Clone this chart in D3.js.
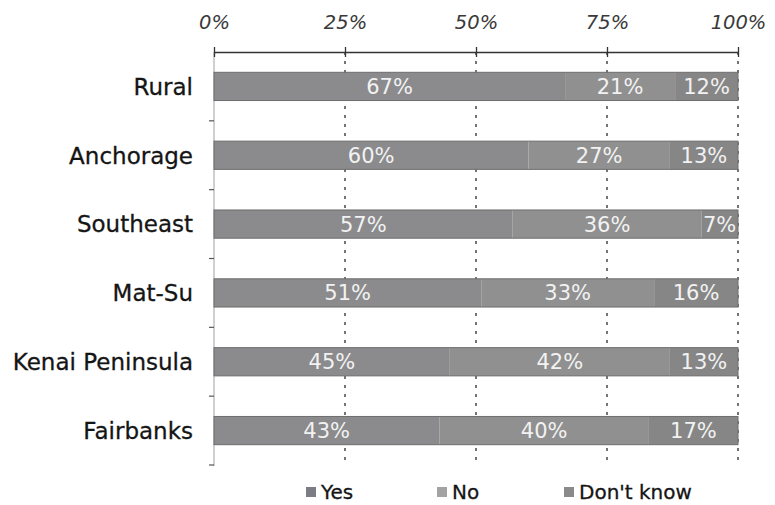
<!DOCTYPE html>
<html>
<head>
<meta charset="utf-8">
<script src="https://cdn.jsdelivr.net/npm/d3@7"></script>
<style>
  html, body { margin: 0; padding: 0; background: #ffffff; }
  svg { display: block; }
</style>
</head>
<body>
<svg id="chart" width="775" height="505"></svg>
<script>
// Survey responses by region (percent of respondents)
const categories = ["Rural", "Anchorage", "Southeast", "Mat-Su", "Kenai Peninsula", "Fairbanks"];
const seriesNames = ["Yes", "No", "Don't know"];
const yesValues = [67, 60, 57, 51, 45, 43];
const noValues = [21, 27, 36, 33, 42, 40];
const dontKnowValues = [12, 13, 7, 16, 13, 17];
const tickValues = [0, 25, 50, 75, 100];

const seriesColors = ["#8b8b8d", "#909090", "#868686"];
const legendSwatch = ["#7c7c84", "#a3a3a3", "#8a8a8a"];

const rows = categories.map((c, i) => ({
  category: c,
  "Yes": yesValues[i],
  "No": noValues[i],
  "Don't know": dontKnowValues[i]
}));

const svg = d3.select("#chart");
const fontFamily = "'DejaVu Sans', Verdana, sans-serif";

const x = d3.scaleLinear().domain([0, 100]).range([214, 738]);
const y = d3.scaleBand().domain(categories).range([52, 465])
  .paddingInner(0.59).paddingOuter(0.295);

const stacked = d3.stack().keys(seriesNames)(rows);

// dashed vertical gridlines
svg.append("g")
  .selectAll("line")
  .data(tickValues.filter(t => t > 0))
  .join("line")
  .attr("x1", d => x(d)).attr("x2", d => x(d))
  .attr("y1", 52).attr("y2", 466)
  .attr("stroke", "#3a3a3a")
  .attr("stroke-width", 1.4)
  .attr("stroke-dasharray", "3,6");

// category axis on the left
const step = y.step();
const boundaries = d3.range(1, categories.length + 1).map(k => 52 + k * step);
svg.append("line")
  .attr("x1", 214).attr("x2", 214)
  .attr("y1", 52).attr("y2", 466)
  .attr("stroke", "#a0a0a0").attr("stroke-width", 1);
svg.append("g")
  .selectAll("line")
  .data(boundaries)
  .join("line")
  .attr("x1", 209).attr("x2", 214)
  .attr("y1", d => d).attr("y2", d => d)
  .attr("stroke", "#555").attr("stroke-width", 1.2);

// stacked bars
const layers = svg.append("g")
  .selectAll("g")
  .data(stacked)
  .join("g")
  .attr("fill", (d, i) => seriesColors[i]);

layers.selectAll("rect")
  .data(d => d)
  .join("rect")
  .attr("x", d => x(d[0]))
  .attr("width", d => x(d[1]) - x(d[0]))
  .attr("y", d => y(d.data.category))
  .attr("height", y.bandwidth());

// thin darker outline around each full bar
svg.append("g")
  .selectAll("rect")
  .data(rows)
  .join("rect")
  .attr("x", x(0))
  .attr("width", x(100) - x(0))
  .attr("y", d => y(d.category))
  .attr("height", y.bandwidth())
  .attr("fill", "none")
  .attr("stroke", "#6e6e6e")
  .attr("stroke-width", 1);

// value labels inside each segment
svg.append("g")
  .selectAll("g")
  .data(stacked)
  .join("g")
  .selectAll("text")
  .data(d => d)
  .join("text")
  .attr("x", d => (x(d[0]) + x(d[1])) / 2)
  .attr("y", d => y(d.data.category) + y.bandwidth() / 2)
  .attr("dy", "0.36em")
  .attr("text-anchor", "middle")
  .attr("font-family", fontFamily)
  .attr("font-size", 21)
  .attr("fill", "#f2f2f2")
  .text(d => (d[1] - d[0]) + "%");

// top percentage axis
const xAxis = d3.axisTop(x).tickValues(tickValues).tickSize(0).tickFormat(d => d + "%");
const axisG = svg.append("g").attr("transform", "translate(0,52)").call(xAxis);
axisG.select(".domain").attr("stroke", "#333").attr("stroke-width", 1.3);
axisG.selectAll(".tick text")
  .attr("y", -23)
  .attr("font-family", fontFamily)
  .attr("font-size", 19.5)
  .attr("font-style", "italic")
  .attr("fill", "#3a3a3a");
axisG.selectAll(".tick")
  .append("line")
  .attr("y1", -5).attr("y2", 5)
  .attr("stroke", "#333").attr("stroke-width", 1.3);

// category labels
svg.append("g")
  .selectAll("text")
  .data(categories)
  .join("text")
  .attr("x", 193)
  .attr("y", d => y(d) + y.bandwidth() / 2)
  .attr("dy", "0.36em")
  .attr("text-anchor", "end")
  .attr("font-family", fontFamily)
  .attr("font-size", 23)
  .attr("fill", "#151515")
  .attr("stroke", "#151515")
  .attr("stroke-width", 0.3)
  .text(d => d);

// legend
const legendX = [306, 437, 564];
const legend = svg.append("g")
  .selectAll("g")
  .data(seriesNames)
  .join("g")
  .attr("transform", (d, i) => `translate(${legendX[i]},492)`);
legend.append("rect")
  .attr("x", 0).attr("y", -5)
  .attr("width", 10).attr("height", 10)
  .attr("fill", (d, i) => legendSwatch[i]);
legend.append("text")
  .attr("x", 15)
  .attr("dy", "0.36em")
  .attr("font-family", fontFamily)
  .attr("font-size", 20)
  .attr("fill", "#151515")
  .attr("stroke", "#151515")
  .attr("stroke-width", 0.3)
  .text(d => d);
</script>
</body>
</html>
